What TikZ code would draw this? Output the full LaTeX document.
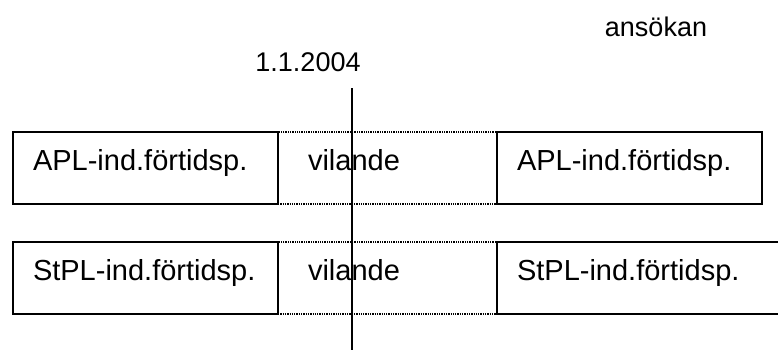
\documentclass[tikz,border=0pt]{standalone}
\usepackage{fontspec}
\setmainfont{Liberation Sans}
\usetikzlibrary{positioning}

\begin{document}
\begin{tikzpicture}[x=1pt,y=-1pt,node distance=0pt,
                    every node/.style={font=\fontsize{29}{34}\selectfont}]
  \tikzset{periodbox/.style={draw,line width=2.2pt,outer sep=0pt,inner ysep=0pt,
             inner xsep=20pt,text height=38pt,text depth=34pt,align=left,
             text width=225pt,anchor=north west},
           pausebox/.style={periodbox,line width=1.3pt,densely dotted,
             inner xsep=30pt,text width=159pt},
           datelabel/.style={font=\fontsize{27}{32}\selectfont}}
  \useasboundingbox (0,0) rectangle (778,362);

  \node[datelabel] (date) at (308,62) {1.1.2004};
  \node[datelabel] (appl) at (656,27) {ansökan};

  % APL row
  \node[periodbox] (apl1) at (13,132) {APL-ind.förtidsp.};
  \node[pausebox,right=of apl1] (vil1) {vilande};
  \node[periodbox,right=of vil1] (apl2) {APL-ind.förtidsp.};

  % StPL row
  \node[periodbox] (stpl1) at (13,242) {StPL-ind.förtidsp.};
  \node[pausebox,right=of stpl1] (vil2) {vilande};
  \node[periodbox,text width=270pt,right=of vil2] (stpl2) {StPL-ind.förtidsp.};

  \coordinate (cut1) at (352,88);
  \coordinate (cut2) at (352,350);
  \draw[line width=1.8pt] (cut1) -- (cut2);
\end{tikzpicture}
\end{document}
